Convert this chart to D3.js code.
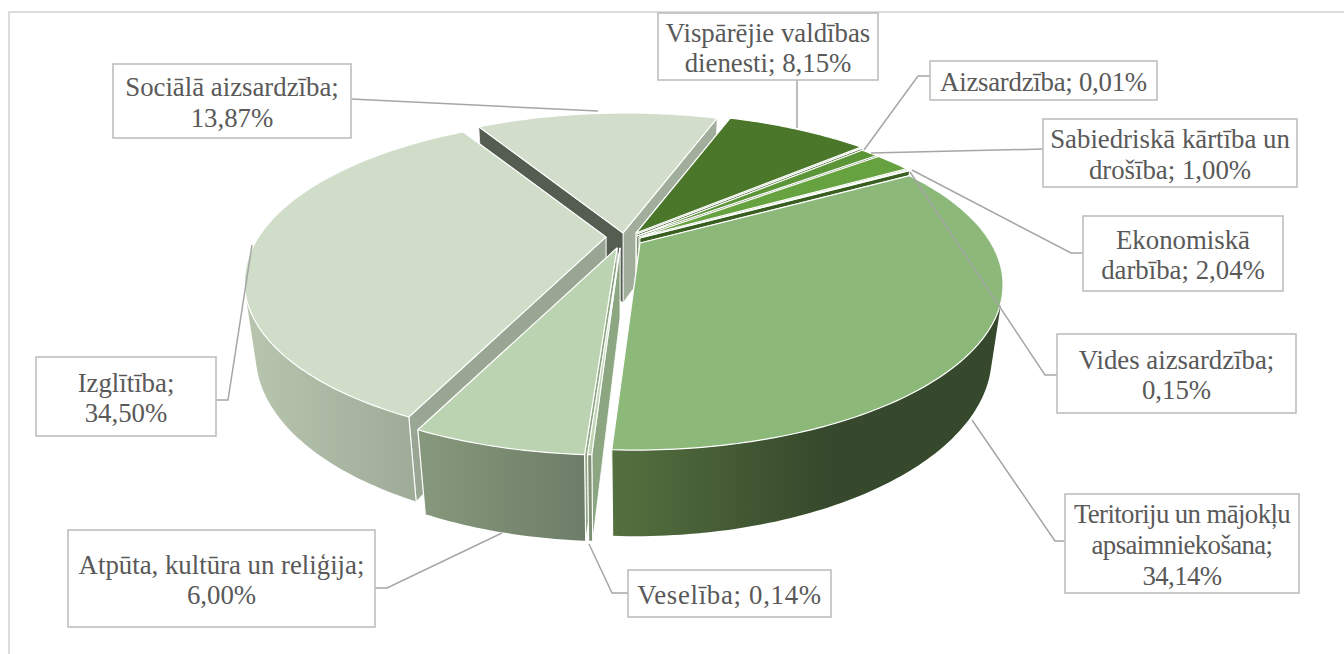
<!DOCTYPE html>
<html><head><meta charset="utf-8">
<script src="https://cdn.jsdelivr.net/npm/d3@7/dist/d3.min.js"></script>
<style>html,body{margin:0;padding:0;background:#fff;overflow:hidden}svg{display:block}</style>
</head><body><svg id="c" width="1344" height="654"></svg>
<script>
// ---- data
const categories = ["Vispārējie valdības dienesti","Aizsardzība","Sabiedriskā kārtība un drošība","Ekonomiskā darbība","Vides aizsardzība","Teritoriju un mājokļu apsaimniekošana","Veselība","Atpūta, kultūra un reliģija","Izglītība","Sociālā aizsardzība"];
const values = [8.15,0.01,1.00,2.04,0.15,34.14,0.14,6.00,34.50,13.87];
const labelLines = [["Vispārējie valdības","dienesti; 8,15%"],["Aizsardzība; 0,01%"],["Sabiedriskā kārtība un","drošība; 1,00%"],["Ekonomiskā","darbība; 2,04%"],["Vides aizsardzība;","0,15%"],["Teritoriju un mājokļu","apsaimniekošana;","34,14%"],["Veselība; 0,14%"],["Atpūta, kultūra un reliģija;","6,00%"],["Izglītība;","34,50%"],["Sociālā aizsardzība;","13,87%"]];
// ---- style
const topColors  = ["#4b772a","#4b772a","#5c9438","#67a240","#6aa544","#8cb87a","#c0d5b5","#bcd3b1","#d0dec9","#d2ddcc"];
const startWall  = ["#3c5f22","#3c5f22","#4a7a2d","#4d8030","#4d8030","#4f6b3c","#8ba680","#8ba680","#99a693","#555c50"];
const endWall    = ["#385c20","#385c20","#385c20","#385c20","#385e20","#364a2c","#8ba680","#8ba680","#7b8a73","#a1ae9b"];
const outerWall  = [null,null,null,null,null,["#55703f","#36492c"],["#84977a","#7a8c72"],["#87997c","#6e7d68"],["#b8c6b0","#97a490"],null];
const outerStop  = [1,1,1,1,1,0.55,1,1,1,1];
// layout: each wedge's tip on screen after explosion
const tips = [[636,233],[637,234],[637,236],[639,237],[640,238],[640,243],[620,248],[617,248],[606,237],[623,233]];
const radiusScale = [1,1,1,1,1,1,1,1,0.99,1];
const boxes = [[658,13,220,67],[930,61,227,39],[1043,119,254,68],[1083,216,200,75],[1057,334,239,79],[1065,494,234,99],[628,570,203,47],[68,530,307,97],[36,357,180,79],[113,64,238,74]];
const labelSpacing = [0,-0.25,0,0,0,-0.6,0.7,0,0,0];
const leaders = [[[797,80],[797,128]],[[930,76],[918,76],[864,150]],[[1043,149],[871,153]],[[1083,253],[1071,253],[912,170]],[[1057,375],[1045,375],[910,172]],[[1065,541],[1055,541],[972,420]],[[628,593],[612,593],[589,544]],[[375,588],[387,588],[502,533]],[[216,400],[228,400],[252,245]],[[351,99],[598,111]]];
const drawOrder = [9,0,1,2,3,4,8,7,6,5];

const R=351,p=0.266,t=152,q=0.03,h=72,shear=-0.025;
const fontSize=26.8, lineH=30.7;
const svg=d3.select("#c");
const defs=svg.append("defs");
svg.append("rect").attr("x",9).attr("y",12).attr("width",1400).attr("height",700).attr("fill","#fff").attr("stroke","#d9d9d9").attr("stroke-width",1.8);

const arcs=d3.pie().sort(null).startAngle(19*Math.PI/180).endAngle(379*Math.PI/180)(values);
const line=d3.line();
function proj(a,tip,d,rs){const u=Math.sin(a),v=-Math.cos(a),w=1-p*v+q*d;
  const Y0=t*v/(1-p*v);
  return [tip[0]+rs*R*u/w+shear*Y0,tip[1]+(t*v*rs+h*d)/w];}
function rim(a0,a1,tip,d,rs){const n=Math.max(2,Math.ceil((a1-a0)*60));return d3.range(n+1).map(i=>proj(a0+(a1-a0)*i/n,tip,d,rs));}
const g=svg.append("g");
function poly(pts,fill,sw){g.append("path").attr("d",line(pts)+"Z").attr("fill",fill).attr("stroke","#fff").attr("stroke-width",sw).attr("stroke-linejoin","round");}

drawOrder.forEach(i=>{
  const a=arcs[i],tip=tips[i],rs=radiusScale[i];
  const lowTip=[tip[0],tip[1]+h/(1+q)];
  const walls=[[a.startAngle,startWall[i]],[a.endAngle,endWall[i]]].sort((m,n)=>Math.cos(n[0])-Math.cos(m[0]));
  walls.forEach(w=>poly([tip,proj(w[0],tip,0,rs),proj(w[0],tip,1,rs),lowTip],w[1],0.8));
  const up=rim(a.startAngle,a.endAngle,tip,0,rs);
  if(outerWall[i]){
    const lo=rim(a.startAngle,a.endAngle,tip,1,rs);
    const xs=up.map(d=>d[0]);
    const gid="w"+i;
    const gr=defs.append("linearGradient").attr("id",gid).attr("gradientUnits","userSpaceOnUse")
      .attr("x1",d3.min(xs)).attr("x2",d3.max(xs)).attr("y1",0).attr("y2",0);
    gr.append("stop").attr("offset",0).attr("stop-color",outerWall[i][0]);
    gr.append("stop").attr("offset",outerStop[i]).attr("stop-color",outerWall[i][1]);
    gr.append("stop").attr("offset",1).attr("stop-color",outerWall[i][1]);
    // one path of same-wound quads so the silhouette bridges both rims without seams
    const dPath=d3.range(up.length-1).map(k=>{
      const quad=[up[k],up[k+1],lo[k+1],lo[k]];
      if(d3.polygonArea(quad)<0) quad.reverse();
      return line(quad)+"Z";
    }).join("");
    g.append("path").attr("d",dPath).attr("fill",`url(#${gid})`).attr("fill-rule","nonzero");
    [0,up.length-1].forEach(k=>g.append("path").attr("d",line([up[k],lo[k]])).attr("stroke","#fff").attr("stroke-width",1.1).attr("fill","none"));
  }
  poly([tip].concat(up),topColors[i],1.2);
});

// leader lines
const lg=svg.append("g");
leaders.forEach(l=>lg.append("path").attr("d",line(l)).attr("fill","none").attr("stroke","#a6a6a6").attr("stroke-width",1.5));
// data labels
categories.forEach((c,i)=>{
  const b=boxes[i];
  svg.append("rect").attr("x",b[0]).attr("y",b[1]).attr("width",b[2]).attr("height",b[3]).attr("fill","#fff").attr("stroke","#bfbfbf").attr("stroke-width",1.6);
  const ls=labelLines[i],cy=b[1]+b[3]/2,n=ls.length;
  ls.forEach((s,k)=>svg.append("text").attr("x",b[0]+b[2]/2).attr("y",cy+(k-(n-1)/2)*lineH+10.5).attr("text-anchor","middle")
    .attr("letter-spacing",labelSpacing[i])
    .attr("font-family","'Liberation Serif',serif").attr("font-size",fontSize).attr("fill","#595959").text(s));
});
</script></body></html>
